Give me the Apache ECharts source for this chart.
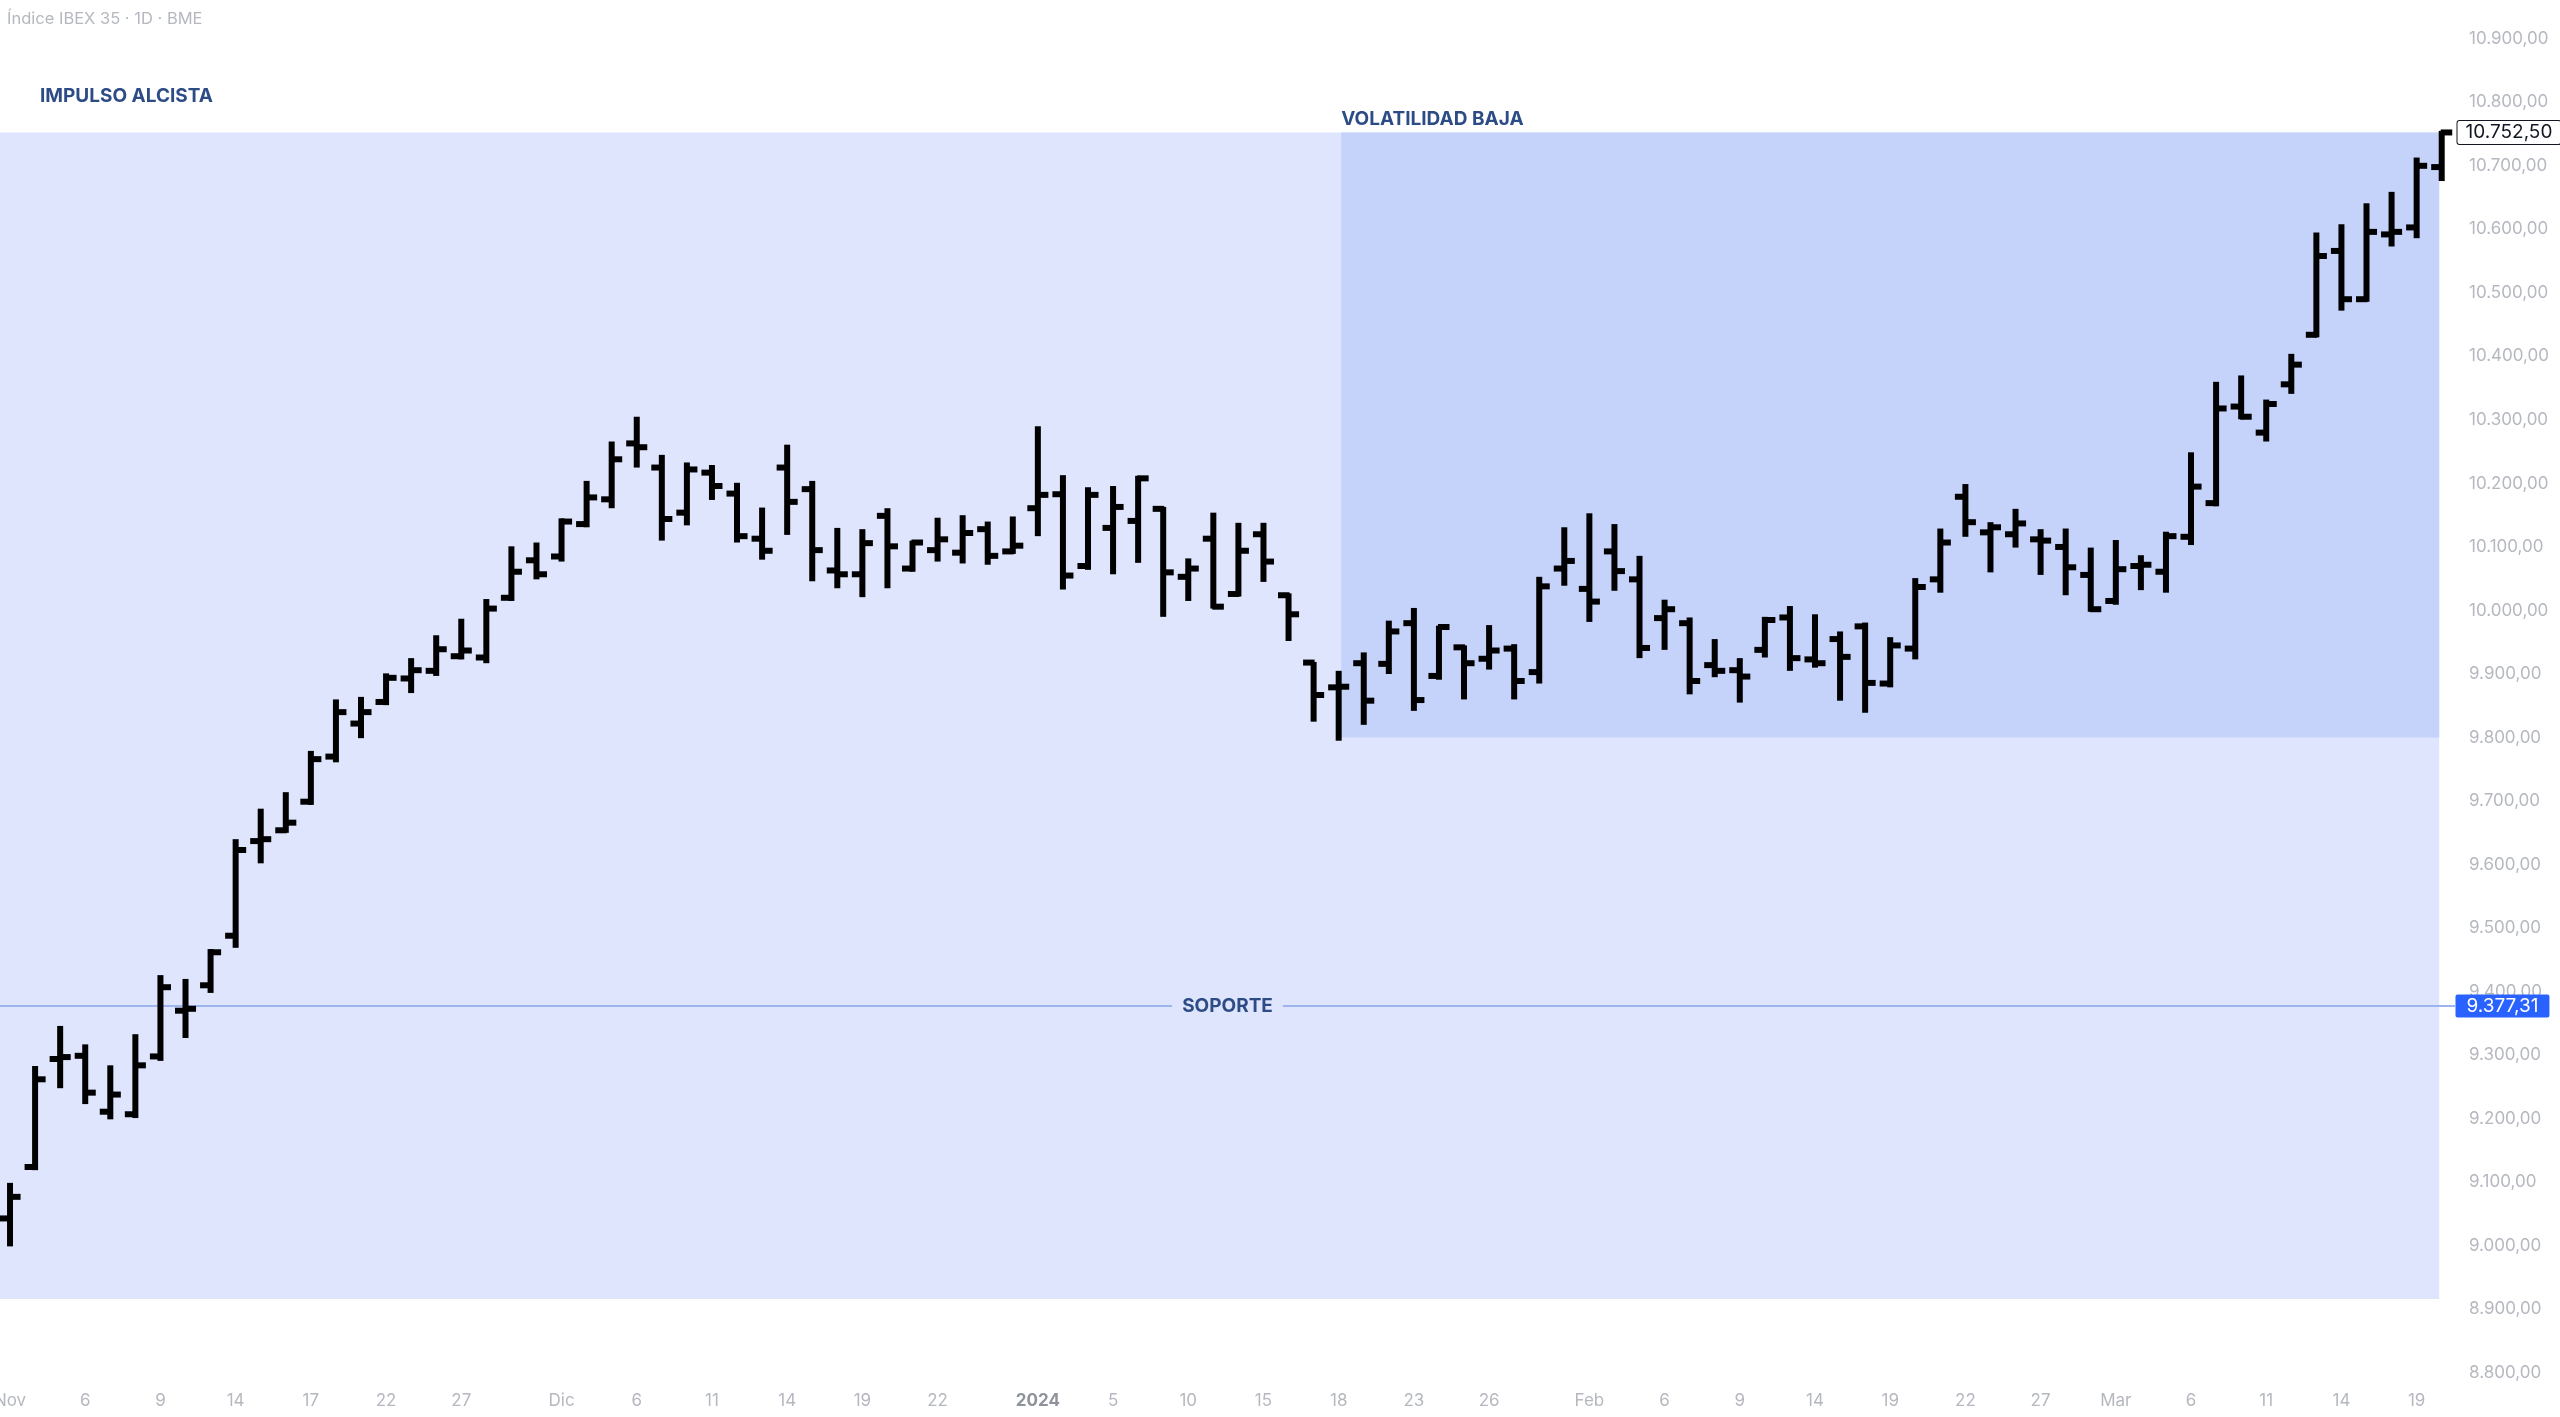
<!DOCTYPE html>
<html><head><meta charset="utf-8">
<script src="https://cdn.jsdelivr.net/npm/echarts@6/dist/echarts.min.js"></script>
<style>html,body{margin:0;padding:0;background:#fff}#c{width:2560px;height:1417px}</style>
</head><body><div id="c"></div>
<script>
// ---- Data (IBEX 35, daily bars) ----
const dates = [
'2023-11-01','2023-11-02','2023-11-03','2023-11-06','2023-11-07','2023-11-08','2023-11-09','2023-11-10','2023-11-13','2023-11-14',
'2023-11-15','2023-11-16','2023-11-17','2023-11-20','2023-11-21','2023-11-22','2023-11-23','2023-11-24','2023-11-27','2023-11-28',
'2023-11-29','2023-11-30','2023-12-01','2023-12-04','2023-12-05','2023-12-06','2023-12-07','2023-12-08','2023-12-11','2023-12-12',
'2023-12-13','2023-12-14','2023-12-15','2023-12-18','2023-12-19','2023-12-20','2023-12-21','2023-12-22','2023-12-27','2023-12-28',
'2023-12-29','2024-01-02','2024-01-03','2024-01-04','2024-01-05','2024-01-08','2024-01-09','2024-01-10','2024-01-11','2024-01-12',
'2024-01-15','2024-01-16','2024-01-17','2024-01-18','2024-01-19','2024-01-22','2024-01-23','2024-01-24','2024-01-25','2024-01-26',
'2024-01-29','2024-01-30','2024-01-31','2024-02-01','2024-02-02','2024-02-05','2024-02-06','2024-02-07','2024-02-08','2024-02-09',
'2024-02-12','2024-02-13','2024-02-14','2024-02-15','2024-02-16','2024-02-19','2024-02-20','2024-02-21','2024-02-22','2024-02-23',
'2024-02-26','2024-02-27','2024-02-28','2024-02-29','2024-03-01','2024-03-04','2024-03-05','2024-03-06','2024-03-07','2024-03-08',
'2024-03-11','2024-03-12','2024-03-13','2024-03-14','2024-03-15','2024-03-18','2024-03-19','2024-03-20'];

const open = [
9043,9124,9294,9299,9211,9207,9298,9370,9410,9488,
9637,9654,9699,9770,9822,9856,9893,9905,9928,9926,
10020,10079,10085,10136,10175,10263,10225,10154,10217,10184,
10113,10225,10191,10063,10057,10149,10066,10095,10091,10128,
10093,10161,10183,10070,10130,10141,10160,10053,10113,10026,
10120,10024,9918,9879,9917,9916,9980,9897,9942,9924,
9940,9903,10066,10034,10093,10049,9988,9980,9914,9906,
9938,9989,9923,9955,9975,9885,9940,10049,10179,10123,
10120,10112,10100,10056,10015,10070,10061,10116,10169,10321,
10280,10356,10434,10566,10490,10592,10603,10698];

const high = [
9099,9283,9346,9317,9284,9333,9426,9420,9467,9640,
9688,9714,9779,9860,9864,9901,9925,9961,9987,10018,
10101,10107,10145,10204,10266,10305,10245,10233,10229,10201,
10162,10261,10204,10130,10128,10161,10110,10146,10150,10140,
10148,10290,10213,10194,10196,10212,10163,10082,10154,10138,
10138,10027,9919,9905,9934,9984,10004,9976,9945,9977,
9947,10053,10131,10153,10136,10086,10017,9989,9955,9925,
9990,10007,9994,9967,9981,9958,10051,10129,10199,10139,
10160,10128,10129,10099,10111,10087,10124,10249,10360,10370,
10332,10404,10595,10608,10641,10659,10713,10755];

const low = [
8999,9119,9248,9223,9199,9201,9291,9327,9398,9469,
9602,9650,9694,9761,9799,9851,9870,9897,9923,9917,
10015,10049,10077,10131,10161,10225,10110,10134,10174,10107,
10080,10119,10046,10035,10021,10035,10061,10077,10074,10072,
10089,10117,10033,10064,10057,10075,9990,10015,10003,10022,
10045,9952,9825,9795,9820,9900,9842,9891,9860,9907,
9860,9885,10039,9982,10031,9925,9938,9868,9895,9855,
9926,9905,9910,9858,9839,9879,9923,10028,10116,10060,
10099,10056,10024,9998,10009,10032,10028,10103,10164,10301,
10266,10341,10430,10472,10486,10573,10586,10676];

const close = [
9077,9262,9297,9241,9238,9284,9407,9373,9462,9623,
9640,9666,9766,9840,9840,9894,9906,9939,9937,10003,
10061,10057,10140,10178,10238,10257,10144,10222,10196,10117,
10094,10171,10095,10057,10106,10101,10107,10112,10122,10086,
10102,10182,10055,10182,10163,10208,10060,10066,10006,10094,
10077,9994,9867,9880,9858,9967,9859,9974,9917,9937,
9889,10038,10078,10014,10062,9941,10002,9889,9905,9896,
9985,9925,9917,9927,9886,9945,10037,10107,10139,10131,
10137,10110,10068,10002,10065,10072,10117,10195,10318,10305,
10325,10387,10558,10490,10596,10596,10700,10752.5];

const tickDates = ['2023-11-01','2023-11-06','2023-11-09','2023-11-14','2023-11-17','2023-11-22','2023-11-27',
'2023-12-01','2023-12-06','2023-12-11','2023-12-14','2023-12-19','2023-12-22',
'2024-01-02','2024-01-05','2024-01-10','2024-01-15','2024-01-18','2024-01-23','2024-01-26',
'2024-02-01','2024-02-06','2024-02-09','2024-02-14','2024-02-19','2024-02-22','2024-02-27',
'2024-03-01','2024-03-06','2024-03-11','2024-03-14','2024-03-19'];
const tickLabels = ['Nov','6','9','14','17','22','27','Dic','6','11','14','19','22','2024','5','10','15','18','23','26',
'Feb','6','9','14','19','22','27','Mar','6','11','14','19'];

const supportLevel = 9377.31;
const lastClose = 10752.50;
// zones: [x from (bar index), x to (bar index), price low, price high]
const impulseZone = [-0.4, 96.9, 8916, 10752.5];
const lowVolZone = [53.1, 96.9, 9800, 10752.5];

const X_MIN = -0.4, X_MAX = 97.53;
const Y_MIN = 8800, Y_MAX = 10961, Y_STEP = 100;

// ---- helpers ----
function fmt(v){ const p = v.toFixed(2).split('.'); return p[0].replace(/\B(?=(\d{3})+(?!\d))/g,'.') + ',' + p[1]; }
const tickIdx = tickDates.map(d => dates.indexOf(d));
const ohlc = dates.map((d,i) => [i, open[i], high[i], low[i], close[i]]);

const FONT = 'Inter, "Noto Sans", sans-serif';
const LIGHT = '#dee5fd', DARK = '#c5d3fb', LABEL_BLUE = '#2d4c86';
const hidden = {symbol:'circle', symbolSize:1, itemStyle:{color:'rgba(0,0,0,0)'}};

const chart = echarts.init(document.getElementById('c'), null, {renderer:'canvas'});
chart.setOption({
  animation:false,
  backgroundColor:'#ffffff',
  textStyle:{fontFamily:FONT},
  title:{text:'Índice IBEX 35 · 1D · BME', left:2, top:6,
    textStyle:{fontSize:16.5, fontWeight:'normal', color:'#b5b8bf', fontFamily:FONT}},
  grid:{left:0, right:105, top:0, bottom:44.2, outerBoundsMode:'none', containLabel:false},
  xAxis:{type:'value', min:X_MIN, max:X_MAX,
    axisLine:{show:false}, axisTick:{show:false}, splitLine:{show:false},
    axisLabel:{customValues:tickIdx, margin:20, fontSize:17, color:'#b5b8bf', fontFamily:FONT, hideOverlap:false,
      formatter:(v)=>{ const k = tickIdx.indexOf(Math.round(v)); const s = tickLabels[k]; return s==='2024' ? '{b|2024}' : s; },
      rich:{b:{fontWeight:'bold', color:'#8e929a', fontSize:17, fontFamily:FONT}}}},
  yAxis:{type:'value', position:'right', min:Y_MIN, max:Y_MAX, interval:Y_STEP,
    axisLine:{show:false}, axisTick:{show:false}, splitLine:{show:false},
    axisLabel:{margin:14, fontSize:17, color:'#b5b8bf', fontFamily:FONT, showMaxLabel:false, formatter:fmt}},
  series:[
    {type:'line', data:[], z:1, silent:true,
      markArea:{silent:true, data:[
        [{xAxis:impulseZone[0], yAxis:impulseZone[3], itemStyle:{color:LIGHT},
          label:{show:true, formatter:'IMPULSO ALCISTA', position:[40,-36], align:'left', verticalAlign:'middle',
            color:LABEL_BLUE, fontWeight:'bold', fontSize:19, fontFamily:FONT}},
         {xAxis:impulseZone[1], yAxis:impulseZone[2]}],
        [{xAxis:lowVolZone[0], yAxis:lowVolZone[3], itemStyle:{color:DARK},
          label:{show:true, formatter:'VOLATILIDAD BAJA', position:[0,-13], align:'left', verticalAlign:'middle',
            color:LABEL_BLUE, fontWeight:'bold', fontSize:19, fontFamily:FONT}},
         {xAxis:lowVolZone[1], yAxis:lowVolZone[2]}]
      ]},
      markLine:{silent:true, symbol:['none','none'], label:{show:false},
        lineStyle:{color:'#9db4ef', width:2, type:'solid'},
        data:[{yAxis:supportLevel}]}
    },
    {type:'custom', z:5, clip:false, data:ohlc,
      encode:{x:0, y:[1,2,3,4]},
      renderItem:(params, api)=>{
        const x = api.value(0);
        const o = api.coord([x, api.value(1)]);
        const h = api.coord([x, api.value(2)]);
        const l = api.coord([x, api.value(3)]);
        const c = api.coord([x, api.value(4)]);
        const t = api.size([1,0])[0] * 0.42;
        const st = {stroke:'#000', lineWidth:6, lineCap:'butt'};
        return {type:'group', children:[
          {type:'line', shape:{x1:h[0], y1:h[1], x2:l[0], y2:l[1]}, style:st},
          {type:'line', shape:{x1:o[0]-t, y1:o[1], x2:o[0]+1, y2:o[1]}, style:st},
          {type:'line', shape:{x1:c[0]-1, y1:c[1], x2:c[0]+t, y2:c[1]}, style:st}
        ]};
      },
      markPoint:{silent:true, data:[
        Object.assign({coord:[(X_MIN + X_MAX)/2, supportLevel],
          label:{show:true, position:'inside', formatter:'SOPORTE', color:LABEL_BLUE, fontWeight:'bold', fontSize:19,
            fontFamily:FONT, backgroundColor:LIGHT, padding:[2,10]}}, hidden),
        Object.assign({coord:[X_MAX, supportLevel],
          label:{show:true, position:'right', distance:0, formatter:fmt(supportLevel), color:'#ffffff', fontSize:19,
            fontFamily:FONT, backgroundColor:'#2962ff', borderRadius:2, padding:[2,11]}}, hidden),
        Object.assign({coord:[X_MAX, lastClose],
          label:{show:true, position:'right', distance:2, formatter:fmt(lastClose), color:'#131722', fontSize:19,
            fontFamily:FONT, backgroundColor:'#ffffff', borderColor:'#131722', borderWidth:1, borderRadius:2, padding:[2,8]}}, hidden)
      ]}
    }
  ]
});
</script></body></html>
